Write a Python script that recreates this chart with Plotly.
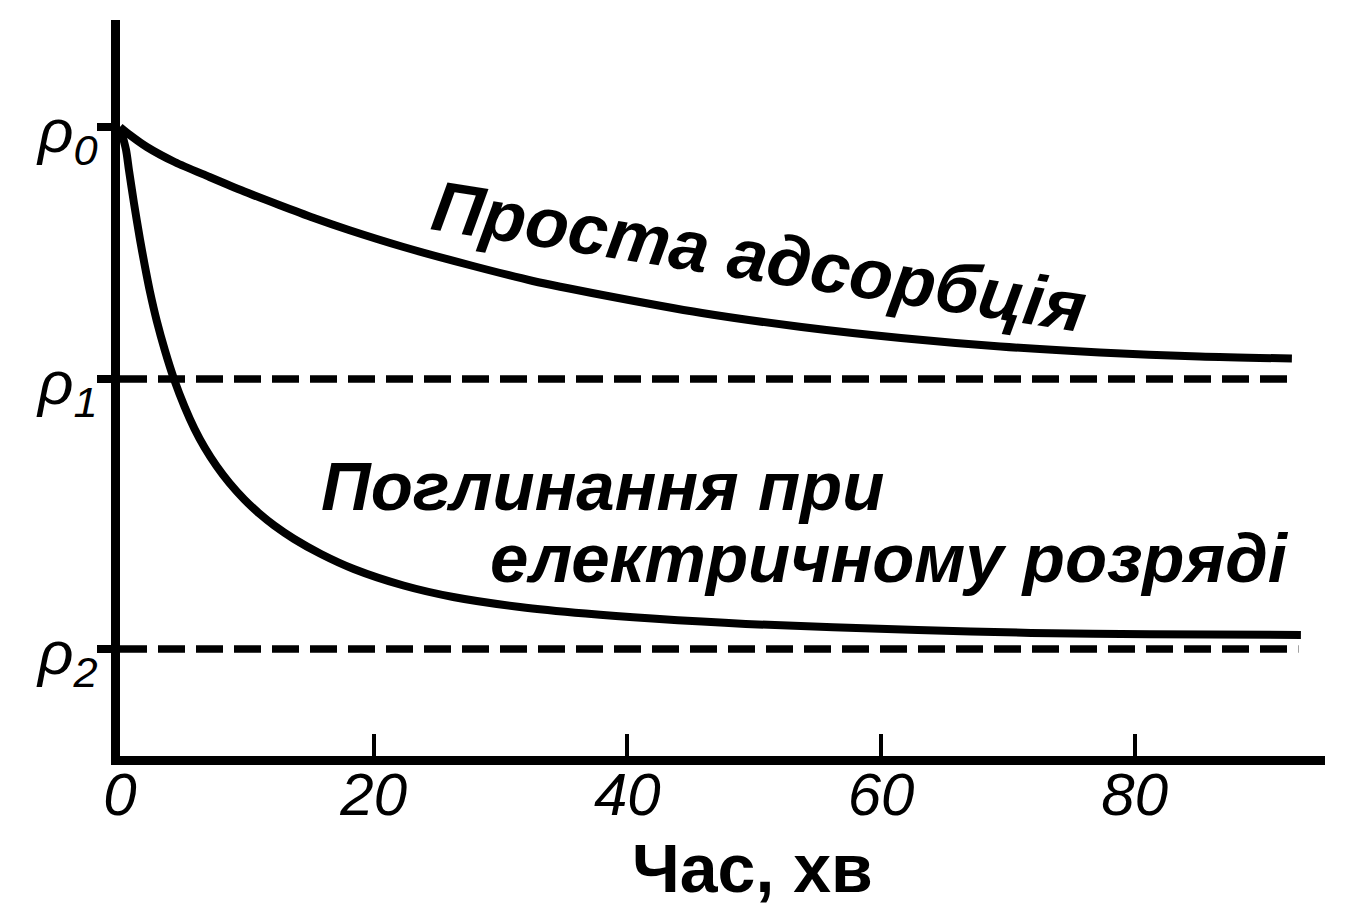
import plotly.graph_objects as go

# ---- data (time in minutes, resistance in arbitrary units) ----
rho_levels = [62.9, 37.7, 10.7]          # rho0, rho1, rho2
rho_labels = ["ρ<sub>0</sub>", "ρ<sub>1</sub>", "ρ<sub>2</sub>"]

t_simple = [0, 0.78, 2.12, 4.31, 7.06, 9.80, 12.55, 15.29, 18.04, 22.35, 27.84,
            32.55, 38.04, 45.88, 53.73, 61.57, 69.41, 77.25, 85.10, 92.39]
r_simple = [62.9, 62.1, 60.9, 59.4, 57.9, 56.45, 55.1, 53.8, 52.6, 50.9, 49.0,
            47.5, 46.1, 44.3, 42.9, 41.8, 40.95, 40.35, 39.95, 39.75]

t_discharge = [0, 0.47, 0.71, 1.10, 1.57, 1.96, 2.35, 2.90, 3.53, 4.31, 5.10,
               5.88, 6.67, 7.61, 8.63, 9.80, 10.98, 12.16, 13.73, 15.84, 18.43,
               22.35, 26.27, 31.53, 36.71, 41.96, 49.33, 62.90, 71.84, 81.18, 93.10]
r_discharge = [62.9, 60.65, 58.55, 55.3, 51.7, 49.0, 46.5, 43.5, 40.6, 37.5, 34.9,
               32.7, 30.85, 29.0, 27.3, 25.65, 24.25, 23.05, 21.7, 20.2, 18.7,
               17.05, 15.9, 14.9, 14.24, 13.74, 13.2, 12.6, 12.31, 12.17, 12.1]

dash_end = [92.2, 92.9]                  # end of rho1 and rho2 dashed lines

x_ticks = [0, 20, 40, 60, 80]
x_ticktext = ["0", "20", "40", "60", "80"]

label_simple = "Проста адсорбція"
label_dis_1 = "Поглинання при"
label_dis_2 = "електричному розряді"
x_title = "Час, хв"

FONT = "Liberation Sans, Arial, sans-serif"

fig = go.Figure()

fig.add_trace(go.Scatter(x=t_simple, y=r_simple, mode="lines",
                         line=dict(color="black", width=8, shape="spline", smoothing=0.8),
                         hoverinfo="skip"))
fig.add_trace(go.Scatter(x=t_discharge, y=r_discharge, mode="lines",
                         line=dict(color="black", width=8, shape="spline", smoothing=0.8),
                         hoverinfo="skip"))
for lvl, xe in zip(rho_levels[1:], dash_end):
    fig.add_trace(go.Scatter(x=[0, xe], y=[lvl, lvl], mode="lines",
                             line=dict(color="black", width=7.5, dash="27px,11px"),
                             hoverinfo="skip"))

fig.add_annotation(x=50.4, y=50.0, xref="x", yref="y", text=label_simple,
                   textangle=9, showarrow=False, xanchor="center", yanchor="middle",
                   font=dict(family=FONT, size=71, color="black", weight="bold", style="italic"))
fig.add_annotation(x=15.7, y=27.0, xref="x", yref="y", text=label_dis_1,
                   showarrow=False, xanchor="left", yanchor="middle",
                   font=dict(family=FONT, size=69, color="black", weight="bold", style="italic"))
fig.add_annotation(x=92.3, y=19.8, xref="x", yref="y", text=label_dis_2,
                   showarrow=False, xanchor="right", yanchor="middle",
                   font=dict(family=FONT, size=69, color="black", weight="bold", style="italic"))
fig.add_annotation(x=0.5245, y=-0.152, xref="paper", yref="paper", text=x_title,
                   showarrow=False, xanchor="center", yanchor="middle",
                   font=dict(family=FONT, size=68, color="black", weight="bold"))

fig.update_xaxes(range=[0, 95], showline=True, linewidth=9, linecolor="black",
                 showgrid=False, zeroline=False, ticks="inside", ticklen=22,
                 tickwidth=4, tickcolor="black", tickvals=x_ticks, ticktext=x_ticktext,
                 ticklabelstandoff=-22,
                 tickfont=dict(family=FONT, size=60, color="black", style="italic"))
fig.update_yaxes(range=[0, 73.6], showline=True, linewidth=9, linecolor="black",
                 showgrid=False, zeroline=False, ticks="outside", ticklen=14,
                 tickwidth=8, tickcolor="black", tickvals=rho_levels, ticktext=rho_labels,
                 ticklabelshift=3, ticklabelstandoff=-13,
                 tickfont=dict(family=FONT, size=62, color="black", style="italic"))

# the page body adds an 8px offset, so margins are reduced by 8px on left/top
fig.update_layout(width=1346, height=921, margin=dict(l=112, r=29, t=12, b=173),
                  plot_bgcolor="white", paper_bgcolor="white", showlegend=False)

fig.write_html("out.html")
